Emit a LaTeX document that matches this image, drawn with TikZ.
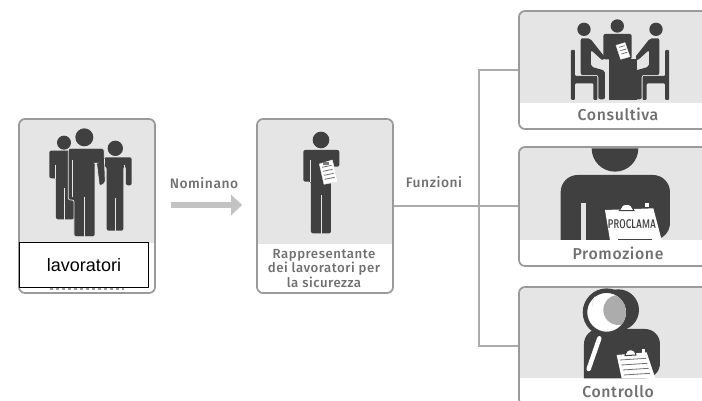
\documentclass[tikz,border=0pt]{standalone}
\usepackage{fontspec}
\setmainfont{Fira Sans}
\newfontfamily\labfont[LetterSpace=4]{Fira Sans Medium}
\newfontfamily\arialfont{Liberation Sans}
\usetikzlibrary{arrows.meta}
\definecolor{gbg}{HTML}{E5E5E5}
\definecolor{ink}{HTML}{404040}
\definecolor{edge}{HTML}{9A9A9A}
\definecolor{wire}{HTML}{ABABAB}
\definecolor{txt}{HTML}{707070}
\tikzset{
  panelbox/.style={draw=edge,line width=1.7pt,rounded corners=6pt,minimum width=#1,inner sep=0pt},
  lab/.style={font=\labfont\fontsize{13.8}{15}\selectfont,text=txt,align=center,inner sep=0pt},
  biglab/.style={lab,font=\labfont\fontsize{15.8}{17}\selectfont},
  wireline/.style={draw=wire,line width=1.2pt},
  inkfill/.style={fill=ink,rounded corners=2pt},
  gap/.style={draw=gbg,line width=.7pt},
  sheet/.style={fill=white,draw=gbg,line width=.4pt},
  sheetline/.style={draw=ink!75,line width=.8pt},
}
\newcommand{\sideperson}{%
  \fill[ink] (222,88) circle[radius=20];
  \fill[ink,rounded corners=1pt] (183,150) -- (195,150) -- (195,228) -- (262,228) -- (262,300) -- (250,300) -- (250,250) -- (195,250) -- (195,300) -- (183,300) -- cycle;
  \fill[ink,rounded corners=2pt] (212,115) -- (240,115) -- (285,172) -- (278,182) -- (243,150) -- (243,200) -- (285,212) -- (285,298) -- (265,298) -- (265,225) -- (212,225) -- cycle;
}
\begin{document}
\begin{tikzpicture}[x=1pt,y=-1pt]
\useasboundingbox (0,0) rectangle (702,401);
\clip (0,0) rectangle (702,401);
\fill[white] (0,0) rectangle (702,401);

% panel backgrounds
\fill[gbg,rounded corners=6pt] (19,119) rectangle (155,293);
\fill[white,rounded corners=6pt] (19,243) -- (19,293) -- (155,293) -- (155,243) [sharp corners] -- cycle;
\fill[white] (19,243) rectangle (155,270);
\fill[gbg,rounded corners=6pt] (257,119) rectangle (393,293);
\fill[white,rounded corners=6pt] (257,244) -- (257,293) -- (393,293) -- (393,244) [sharp corners] -- cycle;
\fill[white] (257,244) rectangle (393,270);
\fill[gbg,rounded corners=6pt] (519,11) rectangle (730,129);
\fill[white,rounded corners=6pt] (519,103) -- (519,129) -- (730,129) -- (730,103) [sharp corners] -- cycle;
\fill[white] (519,103) rectangle (730,116);
\fill[gbg,rounded corners=6pt] (519,147) rectangle (730,266);
\fill[white,rounded corners=6pt] (519,240) -- (519,266) -- (730,266) -- (730,240) [sharp corners] -- cycle;
\fill[white] (519,240) rectangle (730,253);
\fill[gbg,rounded corners=6pt] (519,287) rectangle (730,405);
\fill[white] (519,378) rectangle (730,405);

% panels
\node[panelbox=136pt,minimum height=174pt] (workers) at (87,206) {};
\node[panelbox=136pt,minimum height=174pt] (rep) at (325,206) {};
\node[panelbox=211pt,minimum height=118pt] (cons) at (624.5,70) {};
\node[panelbox=211pt,minimum height=119pt] (prom) at (624.5,206.5) {};
\node[panelbox=211pt,minimum height=118pt] (ctrl) at (624.5,346) {};

% connectors
\coordinate (junction) at (479,206);
\draw[wireline] (rep.east) -- (rep.east -| prom.west);
\draw[wireline] (cons.west) -- (cons.west -| junction) -- (ctrl.west -| junction) -- (ctrl.west);
\draw[draw=gbg!85!black,line width=6.5pt,-{Triangle[length=11pt,width=20pt]},shorten <=15pt,shorten >=14pt] ([yshift=1pt]workers.east) -- ([yshift=1pt]rep.west);

% workers icon
\begin{scope}[yshift=-100pt,x=.3333pt,y=-.3333pt]
  \fill[ink] (192,128) circle[radius=21];
  \fill[inkfill] (148,235) -- (148,152) -- (222,152) -- (222,358) -- (168,358) -- (168,235) -- cycle;
  \draw[gap] (167,195) -- (167,236);
  \draw[gap] (192,265) -- (192,360);
  \fill[ink] (346,145) circle[radius=23];
  \fill[inkfill] (312,172) -- (395,172) -- (395,256) -- (378,256) -- (378,200) -- (370,200) -- (370,392) -- (320,392) -- (320,200) -- (312,200) -- cycle;
  \draw[gap] (345,295) -- (345,394);
  \draw[gap] (374,195) -- (374,256);
  \fill[ink] (253,112) circle[radius=27];
  \draw[gap,fill=ink,rounded corners=2pt] (205,300) -- (205,145) -- (312,145) -- (316,250) -- (298,258) -- (290,190) -- (285,190) -- (285,410) -- (222,410) -- (222,300) -- cycle;
  \draw[gap] (253,290) -- (253,412);
  \draw[gap] (288,190) -- (296,252);
  \draw[gap] (218,180) -- (218,290);
\end{scope}

% representative icon
\begin{scope}[xshift=250pt,yshift=-100pt,x=.3333pt,y=-.3333pt]
  \fill[ink] (213,120) circle[radius=25];
  \fill[inkfill] (160,245) -- (160,150) -- (268,150) -- (268,200) -- (243,200) -- (243,400) -- (183,400) -- (183,245) -- cycle;
  \draw[gap] (213,285) -- (213,402);
  \draw[gap] (180,180) -- (180,245);
  \path[sheet] (208,192) -- (247,180) -- (263,245) -- (222,253) -- cycle;
  \fill[ink!70] (218,186) rectangle (236,194);
  \draw[sheetline] (216,202) -- (245,196) (219,214) -- (248,208) (222,226) -- (251,220) (224,238) -- (254,232);
\end{scope}

% consultiva icon
\begin{scope}[xshift=510pt,x=.3333pt,y=-.3333pt]
  \sideperson
  \begin{scope}[xshift=220pt,xscale=-1]
    \sideperson
  \end{scope}
  \fill[ink] (322,78) circle[radius=20];
  \fill[inkfill] (280,178) -- (280,102) -- (365,102) -- (365,178) -- cycle;
  \fill[ink] (296,176) rectangle (380,300);
  \path[sheet] (318,136) -- (345,128) -- (360,170) -- (332,178) -- cycle;
  \draw[sheetline] (327,142) -- (344,137) (331,152) -- (349,147) (334,162) -- (352,157);
\end{scope}

% promozione icon
\begin{scope}[xshift=510pt,yshift=-140pt,x=.3333pt,y=-.3333pt]
  \fill[ink] (245,25) -- (385,25) arc[start angle=0,end angle=180,radius=70] -- cycle;
  \fill[ink,rounded corners=17pt] (152,300) -- (152,105) -- (480,105) -- (480,300) [sharp corners] -- cycle;
  \fill[gbg] (213,188) rectangle (228,300);
  \fill[white] (285,210) -- (430,205) -- (455,300) -- (300,300) -- cycle;
  \fill[white] (404,188) rectangle (417,202);
  \draw[ink,line width=1pt,fill=white] (328,212) -- (332,205) arc[start angle=180,end angle=360,radius=18,y radius=12] -- (372,212) -- cycle;
  \node[inner sep=0pt,text=ink] (proclama) at (366,252) {\resizebox{48pt}{9pt}{\sffamily\bfseries PROCLAMA}};
  \draw[ink,line width=.7pt] (325,298) -- (425,298);
\end{scope}

% controllo icon
\begin{scope}[xshift=510pt,yshift=-275pt,x=.3333pt,y=-.3333pt]
  \fill[ink,rounded corners=15pt] (222,310) -- (222,162) -- (450,162) -- (450,310) [sharp corners] -- cycle;
  \fill[ink] (325,105) circle[radius=62];
  \draw[ink,fill=white,line width=4.5pt] (290,112) circle[radius=65];
  \begin{scope}
    \clip (290,112) circle[radius=58];
    \fill[gray!65] (325,105) circle[radius=45];
  \end{scope}
  \draw[gbg,line width=.8pt] (248,95) arc[start angle=170,end angle=215,radius=40];
  \draw[ink,line width=8pt,line cap=round] (268,190) -- (236,282);
  \draw[white,line width=4.5pt,line cap=round] (268,190) -- (236,282);
  \fill[white] (320,240) -- (410,232) -- (436,310) -- (335,310) -- cycle;
  \draw[ink,line width=1pt,fill=white] (345,242) -- (348,234) arc[start angle=180,end angle=360,radius=14,y radius=10] -- (378,240) -- cycle;
  \fill[white] (395,222) rectangle (405,234);
  \draw[sheetline] (330,255) -- (408,250) (334,270) -- (412,265) (338,285) -- (416,280) (342,300) -- (420,295);
\end{scope}

% labels
\node[lab] (nom) at (204,183) {Nominano};
\node[lab] (fun) at (434,182) {Funzioni};
\node[lab,font=\labfont\fontsize{13.2}{14.6}\selectfont] (replab) at (324,268.5) {Rappresentante\\dei lavoratori per\\la sicurezza};
\node[biglab] (conslab) at (618,114) {Consultiva};
\node[biglab] (promlab) at (618,253) {Promozione};
\node[biglab] (ctrllab) at (618,392) {Controllo};

% overlay label
\draw[dashed,txt!70,line width=1.2pt] (50,289) -- (124,289);
\node[draw=black,fill=white,line width=.7pt,minimum width=129pt,minimum height=44.5pt,inner sep=0pt,text=black,font=\arialfont\fontsize{18}{20}\selectfont] (lav) at (84,265) {lavoratori};
\end{tikzpicture}
\end{document}
